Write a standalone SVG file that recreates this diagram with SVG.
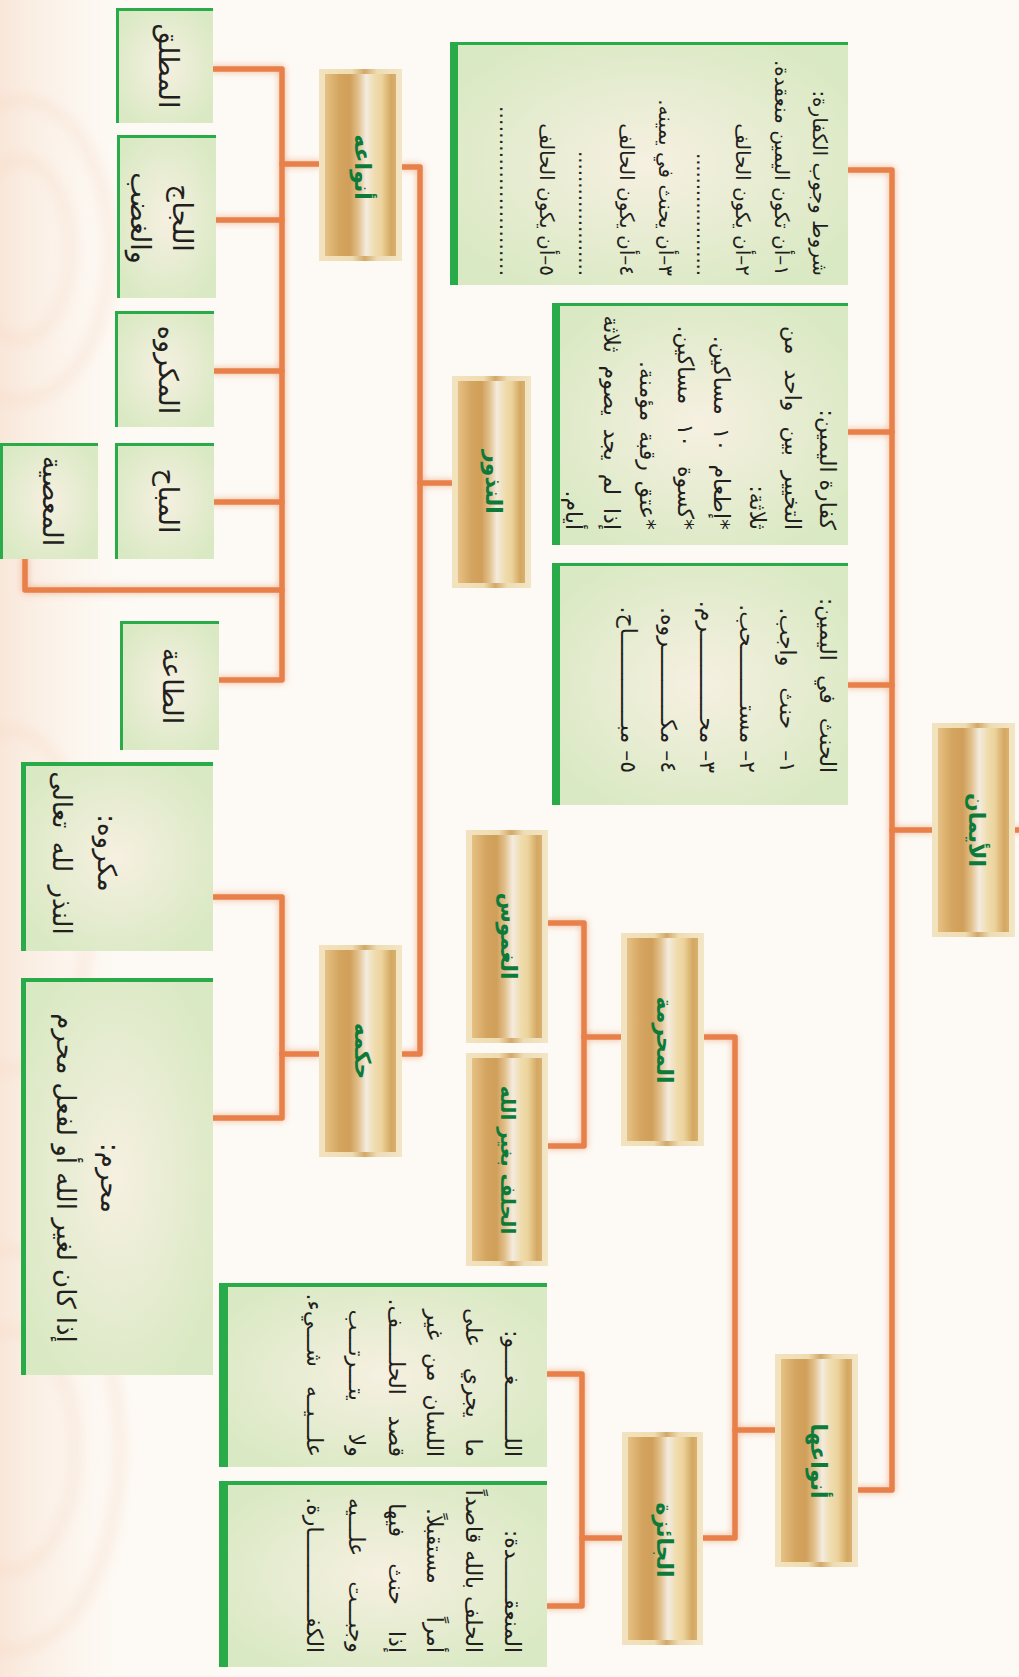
<svg xmlns="http://www.w3.org/2000/svg" width="1019" height="1677" viewBox="0 0 1019 1677">
<defs>
<linearGradient id="goldIn" x1="0" y1="0" x2="1" y2="0">
 <stop offset="0" stop-color="#e6c185"/>
 <stop offset="0.2" stop-color="#d4a560"/>
 <stop offset="0.35" stop-color="#d09f5a"/>
 <stop offset="0.47" stop-color="#e2c08c"/>
 <stop offset="0.58" stop-color="#f3ebde"/>
 <stop offset="0.7" stop-color="#efdcae"/>
 <stop offset="0.8" stop-color="#ecd39c"/>
 <stop offset="0.93" stop-color="#d4a862"/>
 <stop offset="1" stop-color="#d9b06e"/>
</linearGradient>
<linearGradient id="goldOut" x1="0" y1="0" x2="1" y2="0">
 <stop offset="0" stop-color="#f2e3c0"/>
 <stop offset="0.4" stop-color="#efdcb0"/>
 <stop offset="0.55" stop-color="#d2a968"/>
 <stop offset="0.7" stop-color="#eedcb4"/>
 <stop offset="1" stop-color="#f3e6c6"/>
</linearGradient>
<radialGradient id="greenFill" cx="0.5" cy="0.5" r="0.6">
 <stop offset="0" stop-color="#f6f0e1"/>
 <stop offset="1" stop-color="#d9e9c3"/>
</radialGradient>
<linearGradient id="bgLeft" x1="0" y1="0" x2="1" y2="0">
 <stop offset="0" stop-color="#f8e2d2" stop-opacity="0.8"/>
 <stop offset="1" stop-color="#fdfaf5" stop-opacity="0"/>
</linearGradient>
<filter id="glow" filterUnits="userSpaceOnUse" x="0" y="0" width="1019" height="1677">
 <feGaussianBlur in="SourceAlpha" stdDeviation="3.5" result="b"/>
 <feFlood flood-color="#ec9a70" flood-opacity="0.75"/>
 <feComposite in2="b" operator="in" result="g"/>
 <feMerge><feMergeNode in="g"/><feMergeNode in="SourceGraphic"/></feMerge>
</filter>
<filter id="soft" x="-0.2" y="-0.2" width="1.4" height="1.4">
 <feGaussianBlur stdDeviation="6"/>
</filter>
<style>
 .conn path{fill:none;stroke:#e8804a;stroke-width:5.5;stroke-linejoin:round;stroke-linecap:round}
 .go{fill:url(#goldOut)}
 .gi{fill:url(#goldIn)}
 .gf{fill:url(#greenFill)}
 .gb{fill:#2aab4a}
 .t{font-family:"DejaVu Sans",sans-serif;fill:#231f20;font-size:20px}
 .t2{font-family:"DejaVu Sans",sans-serif;fill:#231f20;font-size:22px}
 .w{font-family:"DejaVu Sans",sans-serif;fill:#231f20;font-size:27px}
 .g{font-family:"DejaVu Sans",sans-serif;fill:#0d7a3a;font-weight:bold;font-size:22px}
</style>
</defs>

<g id="background">
 <rect x="0" y="0" width="1019" height="1677" fill="#fdfaf5"/>
 <rect x="0" y="0" width="150" height="1677" fill="url(#bgLeft)"/>
 <g fill="none" stroke="#f6d8c4" stroke-width="12" opacity="0.35" filter="url(#soft)">
  <ellipse cx="20" cy="250" rx="90" ry="150"/>
  <ellipse cx="20" cy="250" rx="50" ry="90"/>
  <ellipse cx="10" cy="900" rx="80" ry="170"/>
  <ellipse cx="10" cy="1450" rx="110" ry="200"/>
  <ellipse cx="10" cy="1450" rx="65" ry="120"/>
 </g>
</g>

<g id="connectors" filter="url(#glow)">
 <g class="conn">
  <path id="c1" d="M848,170 H892 V1490 H858"/>
  <path id="c2" d="M848,432 H892"/>
  <path id="c3" d="M848,685 H892"/>
  <path id="c4" d="M892,830 H932"/>
  <path id="c5" d="M1015,830 H1022"/>
  <path id="c6" d="M704,1037 H735 V1538 H703"/>
  <path id="c7" d="M775,1430 H735"/>
  <path id="c8" d="M547,1374 H582 V1606 H547"/>
  <path id="c9" d="M622,1538 H582"/>
  <path id="c10" d="M548,923 H584 V1146 H548"/>
  <path id="c11" d="M621,1037 H584"/>
  <path id="c12" d="M402,167 H420 V1054 H402"/>
  <path id="c13" d="M452,483 H420"/>
  <path id="c14" d="M319,164 H282"/>
  <path id="c15" d="M213,69 H282 V680 H219"/>
  <path id="c16" d="M216,220 H282"/>
  <path id="c17" d="M214,371 H282"/>
  <path id="c18" d="M214,502 H282"/>
  <path id="c19" d="M282,590 H25 V559"/>
  <path id="c20" d="M319,1054 H282"/>
  <path id="c21" d="M213,897 H282 V1118 H213"/>
 </g>
</g>

<g id="n-aiman">
 <rect class="go" x="932" y="723" width="83" height="214"/>
 <rect class="gi" x="938" y="728" width="71" height="204"/>
 <text class="g" transform="translate(976,830) rotate(90)" text-anchor="middle" dominant-baseline="central">الأيمان</text>
</g>
<g id="n-nudhur">
 <rect class="go" x="452" y="376" width="79" height="212"/>
 <rect class="gi" x="458" y="381" width="67" height="202"/>
 <text class="g" transform="translate(493,482) rotate(90)" text-anchor="middle" dominant-baseline="central">النذور</text>
</g>
<g id="n-anwauh">
 <rect class="go" x="319" y="69" width="83" height="192"/>
 <rect class="gi" x="325" y="74" width="71" height="182"/>
 <text class="g" transform="translate(362,167) rotate(90)" text-anchor="middle" dominant-baseline="central">أنواعه</text>
</g>
<g id="n-hukmuh">
 <rect class="go" x="319" y="945" width="83" height="212"/>
 <rect class="gi" x="325" y="950" width="71" height="202"/>
 <text class="g" transform="translate(362,1051) rotate(90)" text-anchor="middle" dominant-baseline="central">حكمه</text>
</g>
<g id="n-ghamus">
 <rect class="go" x="466" y="830" width="82" height="213"/>
 <rect class="gi" x="472" y="835" width="70" height="203"/>
 <text class="g" transform="translate(508,936) rotate(90)" text-anchor="middle" dominant-baseline="central">الغموس</text>
</g>
<g id="n-hilf">
 <rect class="go" x="466" y="1053" width="82" height="213"/>
 <rect class="gi" x="472" y="1058" width="70" height="203"/>
 <text class="g" transform="translate(508,1160) rotate(90)" text-anchor="middle" dominant-baseline="central" style="font-size:20px">الحلف بغير الله</text>
</g>
<g id="n-muharrama">
 <rect class="go" x="621" y="933" width="83" height="213"/>
 <rect class="gi" x="627" y="938" width="71" height="203"/>
 <text class="g" transform="translate(664,1040) rotate(90)" text-anchor="middle" dominant-baseline="central">المحرمة</text>
</g>
<g id="n-jaiza">
 <rect class="go" x="622" y="1432" width="81" height="213"/>
 <rect class="gi" x="628" y="1437" width="69" height="203"/>
 <text class="g" transform="translate(664,1540) rotate(90)" text-anchor="middle" dominant-baseline="central">الجائزة</text>
</g>
<g id="n-anwauha">
 <rect class="go" x="775" y="1354" width="83" height="213"/>
 <rect class="gi" x="781" y="1359" width="71" height="203"/>
 <text class="g" transform="translate(818,1461) rotate(90)" text-anchor="middle" dominant-baseline="central">أنواعها</text>
</g>

<g id="n-shurut">
 <rect class="gf" x="450" y="42" width="398" height="243"/>
 <rect class="gb" x="450" y="42" width="398" height="3"/>
 <rect class="gb" x="450" y="42" width="8" height="243"/>
 <g direction="rtl" text-anchor="start" dominant-baseline="central" class="t">
  <text transform="translate(820,276) rotate(90)">شروط وجوب الكفارة:</text>
  <text transform="translate(782,276) rotate(90)">١–أن تكون اليمين منعقدة.</text>
  <text transform="translate(743,276) rotate(90)">٢–أن يكون الحالف</text>
  <text transform="translate(704,276) rotate(90)" textLength="123" lengthAdjust="spacing">....................</text>
  <text transform="translate(666,276) rotate(90)">٣–أن يحنث في يمينه.</text>
  <text transform="translate(627,276) rotate(90)">٤–أن يكون الحالف</text>
  <text transform="translate(586,276) rotate(90)" textLength="125" lengthAdjust="spacing">....................</text>
  <text transform="translate(547,276) rotate(90)">٥–أن يكون الحالف</text>
  <text transform="translate(507,276) rotate(90)" textLength="170" lengthAdjust="spacing">..........................</text>
 </g>
</g>
<g id="n-kaffara">
 <rect class="gf" x="552" y="303" width="296" height="242"/>
 <rect class="gb" x="552" y="303" width="296" height="3"/>
 <rect class="gb" x="552" y="303" width="8" height="242"/>
 <g direction="rtl" text-anchor="start" dominant-baseline="central" class="t2">
  <text transform="translate(827,530) rotate(90)">كفارة اليمين:</text>
  <text transform="translate(792,530) rotate(90)" word-spacing="8">التخيير بين واحد من</text>
  <text transform="translate(757,530) rotate(90)">ثلاثة:</text>
  <text transform="translate(721,530) rotate(90)" word-spacing="6">*إطعام ١٠ مساكين.</text>
  <text transform="translate(685,530) rotate(90)" word-spacing="12">*كسوة ١٠ مساكين.</text>
  <text transform="translate(647,530) rotate(90)" word-spacing="3">*عتق رقبة مؤمنة.</text>
  <text transform="translate(611,530) rotate(90)" word-spacing="6">إذا لم يجد يصوم ثلاثة</text>
  <text transform="translate(573,530) rotate(90)">أيام.</text>
 </g>
</g>
<g id="n-hinth">
 <rect class="gf" x="552" y="563" width="296" height="242"/>
 <rect class="gb" x="552" y="563" width="296" height="3"/>
 <rect class="gb" x="552" y="563" width="8" height="242"/>
 <g direction="rtl" text-anchor="start" dominant-baseline="central" class="t2">
  <text transform="translate(827,773) rotate(90)" word-spacing="7">الحنث في اليمين:</text>
  <text transform="translate(787,773) rotate(90)" word-spacing="14">١– حنث واجب.</text>
  <text transform="translate(747,773) rotate(90)">٢– مستـــــــــحب.</text>
  <text transform="translate(707,773) rotate(90)">٣– محـــــــــــــرم.</text>
  <text transform="translate(668,773) rotate(90)">٤– مكـــــــــــروه.</text>
  <text transform="translate(628,773) rotate(90)">٥– مبــــــــــــــاح.</text>
 </g>
</g>
<g id="n-laghw">
 <rect class="gf" x="219" y="1283" width="328" height="184"/>
 <rect class="gb" x="219" y="1283" width="328" height="4"/>
 <rect class="gb" x="219" y="1283" width="9" height="184"/>
 <g direction="rtl" text-anchor="start" dominant-baseline="central" class="t2">
  <text transform="translate(512,1457) rotate(90)">اللــــــــغــــو:</text>
  <text transform="translate(473,1457) rotate(90)" word-spacing="14">ما يجري على</text>
  <text transform="translate(434,1457) rotate(90)" word-spacing="6">اللسان من غير</text>
  <text transform="translate(396,1457) rotate(90)" word-spacing="14">قصد الحلـــــف.</text>
  <text transform="translate(356,1457) rotate(90)" word-spacing="26">ولا يتـــرتـــب</text>
  <text transform="translate(314,1457) rotate(90)" word-spacing="12">علـــيــه شـــيء.</text>
 </g>
</g>
<g id="n-munaqida">
 <rect class="gf" x="219" y="1481" width="328" height="186"/>
 <rect class="gb" x="219" y="1481" width="328" height="4"/>
 <rect class="gb" x="219" y="1481" width="9" height="186"/>
 <g direction="rtl" text-anchor="start" dominant-baseline="central" class="t2">
  <text transform="translate(512,1653) rotate(90)">المنعقــــــدة:</text>
  <text transform="translate(473,1653) rotate(90)">الحلف بالله قاصداً</text>
  <text transform="translate(434,1653) rotate(90)" word-spacing="26">أمراً مستقبلاً.</text>
  <text transform="translate(396,1653) rotate(90)" word-spacing="19">إذا حنث فيها</text>
  <text transform="translate(356,1653) rotate(90)" word-spacing="18">وجبـــت علـــيه</text>
  <text transform="translate(314,1653) rotate(90)">الكفـــــــــــــارة.</text>
 </g>
</g>
<g id="n-makruh-hukm">
 <rect class="gf" x="21" y="762" width="192" height="189"/>
 <rect class="gb" x="21" y="762" width="192" height="4"/>
 <rect class="gb" x="21" y="762" width="5" height="189"/>
 <g direction="rtl" text-anchor="middle" dominant-baseline="central" class="t" style="font-size:26px">
  <text transform="translate(107,853) rotate(90)">مكروه:</text>
  <text transform="translate(62,853) rotate(90)" word-spacing="5">النذر لله تعالى</text>
 </g>
</g>
<g id="n-muharram-hukm">
 <rect class="gf" x="21" y="978" width="192" height="397"/>
 <rect class="gb" x="21" y="978" width="192" height="4"/>
 <rect class="gb" x="21" y="978" width="5" height="397"/>
 <g direction="rtl" text-anchor="middle" dominant-baseline="central" class="t" style="font-size:26px">
  <text transform="translate(110,1178) rotate(90)">محرم:</text>
  <text transform="translate(66,1178) rotate(90)">إذا كان لغير الله أو لفعل محرم</text>
 </g>
</g>
<g id="n-mutlaq">
 <rect class="gf" x="116" y="8" width="97" height="115"/>
 <rect class="gb" x="116" y="8" width="97" height="3"/>
 <rect class="gb" x="116" y="8" width="3" height="115"/>
 <text class="w" direction="rtl" transform="translate(168,66) rotate(90)" text-anchor="middle" dominant-baseline="central">المطلق</text>
</g>
<g id="n-lajaj">
 <rect class="gf" x="117" y="135" width="99" height="163"/>
 <rect class="gb" x="117" y="135" width="99" height="3"/>
 <rect class="gb" x="117" y="135" width="3" height="163"/>
 <text class="w" direction="rtl" transform="translate(182,218) rotate(90)" text-anchor="middle" dominant-baseline="central">اللجاج</text>
 <text class="w" direction="rtl" transform="translate(140,218) rotate(90)" text-anchor="middle" dominant-baseline="central">والغضب</text>
</g>
<g id="n-makruh">
 <rect class="gf" x="115" y="311" width="99" height="116"/>
 <rect class="gb" x="115" y="311" width="99" height="3"/>
 <rect class="gb" x="115" y="311" width="3" height="116"/>
 <text class="w" direction="rtl" transform="translate(168,370) rotate(90)" text-anchor="middle" dominant-baseline="central">المكروه</text>
</g>
<g id="n-mubah">
 <rect class="gf" x="115" y="443" width="99" height="116"/>
 <rect class="gb" x="115" y="443" width="99" height="3"/>
 <rect class="gb" x="115" y="443" width="3" height="116"/>
 <text class="w" direction="rtl" transform="translate(168,501) rotate(90)" text-anchor="middle" dominant-baseline="central">المباح</text>
</g>
<g id="n-masiya">
 <rect class="gf" x="0" y="443" width="98" height="116"/>
 <rect class="gb" x="0" y="443" width="98" height="3"/>
 <rect class="gb" x="0" y="443" width="3" height="116"/>
 <text class="w" direction="rtl" transform="translate(52,501) rotate(90)" text-anchor="middle" dominant-baseline="central">المعصية</text>
</g>
<g id="n-taa">
 <rect class="gf" x="120" y="621" width="99" height="129"/>
 <rect class="gb" x="120" y="621" width="99" height="3"/>
 <rect class="gb" x="120" y="621" width="3" height="129"/>
 <text class="w" direction="rtl" transform="translate(172,686) rotate(90)" text-anchor="middle" dominant-baseline="central">الطاعة</text>
</g>
</svg>
